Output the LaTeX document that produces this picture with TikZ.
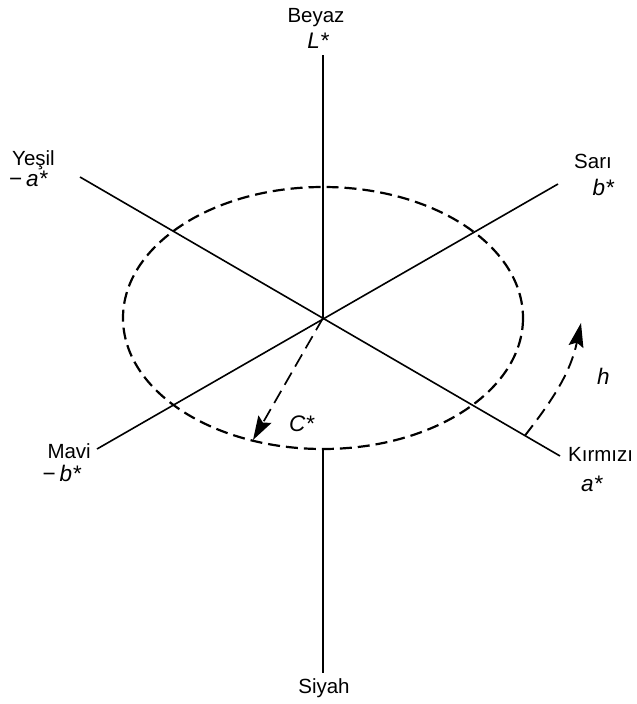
\documentclass[tikz,border=0pt]{standalone}
\usepackage{fontspec}
\setmainfont{Liberation Sans}
\usepackage{tikz}
\usetikzlibrary{arrows.meta, calc}
\tikzset{
  axisline/.style={line width=1.6pt, black},
  rim/.style={line width=2.2pt, dash pattern=on 12pt off 6pt},
  vecarrow/.style={line width=1.7pt, dash pattern=on 14pt off 7pt,
    -{Stealth[length=24pt, width=15pt, inset=4pt]}},
  hue/.style={line width=1.9pt, dash pattern=on 13pt off 7pt,
    -{Stealth[length=24pt, width=15pt, inset=4pt]}},
  colname/.style={font=\fontsize{20.5}{22}\selectfont, inner sep=0pt},
  sym/.style={font=\fontsize{22.5}{24}\selectfont\itshape, inner sep=0pt}
}
\begin{document}
\begin{tikzpicture}[x=1pt, y=-1pt]
  \useasboundingbox (0,0) rectangle (637,704);
  % axes
  \coordinate (O) at (323,318);
  \coordinate (topend) at (323,55);
  \coordinate (botend) at (323,673);
  \coordinate (rimbot) at (323,450);
  \coordinate (greenend) at (80,177);
  \coordinate (redend) at (560,456);
  \coordinate (yellowend) at (558,184);
  \coordinate (blueend) at (97,449);
  \draw[axisline] (topend) -- (O);
  \draw[axisline] (rimbot) -- (botend);
  \draw[axisline] (greenend) -- (redend);
  \draw[axisline] (yellowend) -- (blueend);
  % chroma circle
  \draw[rim] (O) ellipse [x radius=200, y radius=131];
  % chroma and hue
  \coordinate (cend) at (253,440);
  \draw[vecarrow] (O) -- (cend);
  \coordinate (hstart) at ($(O)!0.852!(redend)$);
  \coordinate (hend) at (581,323);
  \draw[hue] (hstart) to[out=52, in=-102] (hend);
  % labels
  \node[colname, anchor=base] (beyaz) at (316,22) {Beyaz};
  \node[sym, anchor=base] (lstar) at (318,48) {L*};
  \node[colname, anchor=base west] (yesil) at (12,165) {Yeşil};
  \node[sym, anchor=base west] (amin) at (9,186) {{\upshape −}\,a*};
  \node[colname, anchor=base west] (sari) at (574,168) {Sarı};
  \node[sym, anchor=base east] (bstar) at (614,195) {b*};
  \node[colname, anchor=base east] (mavi) at (91,458) {Mavi};
  \node[sym, anchor=base east] (bmin) at (81,481) {{\upshape −}\,b*};
  \node[colname, anchor=base west] (kirmizi) at (568,461) {Kırmızı};
  \node[sym, anchor=base west] (astar) at (581,491) {a*};
  \node[colname, anchor=base] (siyah) at (324,693) {Siyah};
  \node[sym, anchor=base west] (cstar) at (289,431) {C*};
  \node[sym, anchor=base west] (hlab) at (597,384) {h};
\end{tikzpicture}
\end{document}
